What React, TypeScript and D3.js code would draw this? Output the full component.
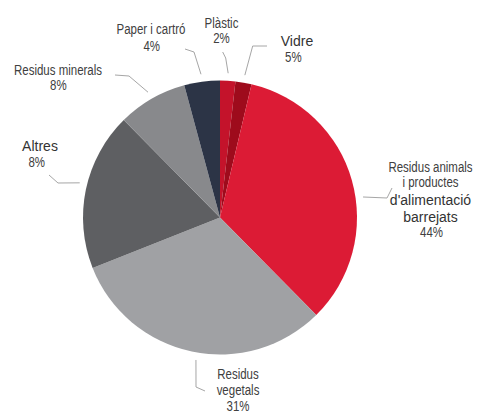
import React, { useEffect, useRef } from 'react';
import * as d3 from 'd3';

// Slice order runs clockwise from 12 o'clock
const categories = [
  'Plàstic',
  'Vidre',
  "Residus animals i productes d'alimentació barrejats",
  'Residus vegetals',
  'Altres',
  'Residus minerals',
  'Paper i cartró',
];

// Shares as drawn
const shares = [1.8, 1.9, 33.9, 31.4, 18.6, 8.2, 4.2];

// Printed labels
const labelLines = [
  ['Plàstic'],
  ['Vidre'],
  ['Residus animals', 'i productes', "d'alimentació", 'barrejats'],
  ['Residus', 'vegetals'],
  ['Altres'],
  ['Residus minerals'],
  ['Paper i cartró'],
];
const percentLabels = ['2%', '5%', '44%', '31%', '8%', '8%', '4%'];

const colors = ['#c4132b', '#9e0b1c', '#dc1b35', '#a0a1a4', '#5e5f62', '#88898c', '#2c3446'];

// Label placement: x centre, first baseline, baseline steps, lines in the wider face
const labelLayout = [
  { x: 221.5, y: 27.7, steps: [15], wide: [], pctDx: 0, shift: 0, elbow: [225.7, 58], end: [222.7, 52] },
  { x: 297, y: 46, steps: [15.7], wide: [0], pctDx: -3.7, shift: 0, elbow: [252.7, 46], end: [267, 46] },
  { x: 430.5, y: 171.7, steps: [15, 18.3, 16.7, 15], wide: [2, 3], pctDx: 1, shift: 7.5, elbow: [387, 198], end: [392, 188] },
  { x: 238, y: 379, steps: [16, 15.7], wide: [], pctDx: 0, shift: -2.3, elbow: [196, 387], end: [205, 391] },
  { x: 40, y: 150.7, steps: [16], wide: [0], pctDx: -3.3, shift: 2, elbow: [58, 183], end: [49, 175] },
  { x: 58, y: 75, steps: [14.8], wide: [], pctDx: 0.3, shift: 0, elbow: [129, 76], end: [115, 75] },
  { x: 151, y: 34.3, steps: [16.4], wide: [], pctDx: 0.7, shift: 0, elbow: [194, 52], end: [185, 49] },
];

const WIDTH = 485;
const HEIGHT = 418;
const NARROW = 0.82; // no narrow face installed, so squeeze the regular one

export default function App() {
  const svgRef = useRef<SVGSVGElement>(null);

  useEffect(() => {
    if (!svgRef.current) return;
    const svg = d3.select(svgRef.current);
    svg.selectAll('*').remove();

    const cx = 220;
    const cy = 217.5;
    const radius = 137;

    const data = categories.map((name, i) => ({ name, value: shares[i], i }));

    const pie = d3.pie<{ name: string; value: number; i: number }>()
      .value(d => d.value)
      .sort(null)
      .startAngle(0)
      .endAngle(2 * Math.PI);

    const arcs = pie(data);

    const arc = d3.arc<d3.PieArcDatum<{ name: string; value: number; i: number }>>()
      .innerRadius(0)
      .outerRadius(radius);

    const g = svg.append('g').attr('transform', `translate(${cx},${cy})`);

    g.selectAll('path.slice')
      .data(arcs)
      .enter()
      .append('path')
      .attr('class', 'slice')
      .attr('d', arc)
      .attr('fill', d => colors[d.data.i]);

    // Leader lines
    const leaderR = radius + 7.5;
    arcs.forEach((a) => {
      const lay = labelLayout[a.data.i];
      const mid = (a.startAngle + a.endAngle) / 2 + (lay.shift * Math.PI) / 180;
      const sx = cx + leaderR * Math.sin(mid);
      const sy = cy - leaderR * Math.cos(mid);
      const line = d3.line();
      svg.append('path')
        .attr('d', line([[sx, sy], lay.elbow as [number, number], lay.end as [number, number]]))
        .attr('fill', 'none')
        .attr('stroke', '#a6a6a6')
        .attr('stroke-width', 1);
    });

    // Labels
    arcs.forEach((a) => {
      const idx = a.data.i;
      const lay = labelLayout[idx];
      const lines = [...labelLines[idx], percentLabels[idx]];
      let y = lay.y;
      lines.forEach((txt, li) => {
        if (li > 0) y += lay.steps[li - 1];
        const isPct = li === lines.length - 1;
        const wide = lay.wide.includes(li);
        const x = lay.x + (isPct ? lay.pctDx : 0);
        svg.append('text')
          .attr('transform', `translate(${x},${y}) scale(${wide ? 1 : NARROW},1)`)
          .attr('text-anchor', 'middle')
          .attr('font-family', '"Liberation Sans", Arial, sans-serif')
          .attr('font-size', '14px')
          .style('fill', wide ? '#333333' : '#404040')
          .text(txt);
      });
    });
  }, []);

  return (
    <div style={{ position: 'absolute', left: 0, top: 0, width: WIDTH, height: HEIGHT, background: '#fff' }}>
      <svg ref={svgRef} width={WIDTH} height={HEIGHT} />
    </div>
  );
}
